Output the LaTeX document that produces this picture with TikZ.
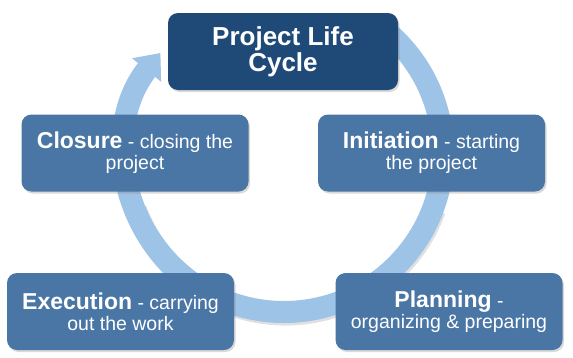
\documentclass[tikz,border=0pt]{standalone}
\usepackage{fontspec}
\setmainfont{Liberation Sans}
\usetikzlibrary{arrows.meta,shadows}
\definecolor{ringblue}{HTML}{9DC3E6}
\definecolor{titleblue}{HTML}{1F4A78}
\definecolor{stageblue}{HTML}{4A76A6}
\newcommand{\stagename}[1]{{\fontsize{23}{24}\selectfont\bfseries #1}}
\newcommand{\stagefont}{\fontsize{19.5}{21}\selectfont}
\tikzset{
  stagebox/.style={fill=stageblue, rounded corners=10pt, text=white, align=center,
    minimum width=227pt, minimum height=77pt, inner sep=0pt, font=\stagefont,
    drop shadow={opacity=0.3, shadow xshift=1.5pt, shadow yshift=-2pt}},
  titlebox/.style={stagebox, fill=titleblue, minimum width=230pt,
    font=\fontsize{26}{26}\selectfont\bfseries},
  ringpath/.style={draw=ringblue, line width=22pt, -{Triangle[width=36pt,length=22pt]}},
  ringshade/.style={draw=black, opacity=0.12, line width=22pt}
}
\begin{document}
\begin{tikzpicture}[x=1pt, y=-1pt]
  \useasboundingbox (0,0) rectangle (573,357);
  % the cycle ring behind the stages
  \coordinate (hub) at (284,153);
  \draw[ringshade] (285.5,155.5) ++(20:159) arc[start angle=20, end angle=160, radius=159];
  \draw[ringpath] (hub) ++(-50:159) arc[start angle=-50, end angle=219, radius=159];
  % stages
  \node[titlebox] (title) at (283,51.5) {Project Life\\Cycle};
  \node[stagebox] (closure) at (135,153)
    {\stagename{Closure} - closing the\\project};
  \node[stagebox] (initiation) at (431.5,153)
    {\stagename{Initiation} - starting\\the project};
  \node[stagebox] (execution) at (120.5,311.5)
    {\stagename{Execution} - carrying\\out the work};
  \node[stagebox] (planning) at (449,311.5)
    {\stagename{Planning} -\\organizing \& preparing};
\end{tikzpicture}
\end{document}
